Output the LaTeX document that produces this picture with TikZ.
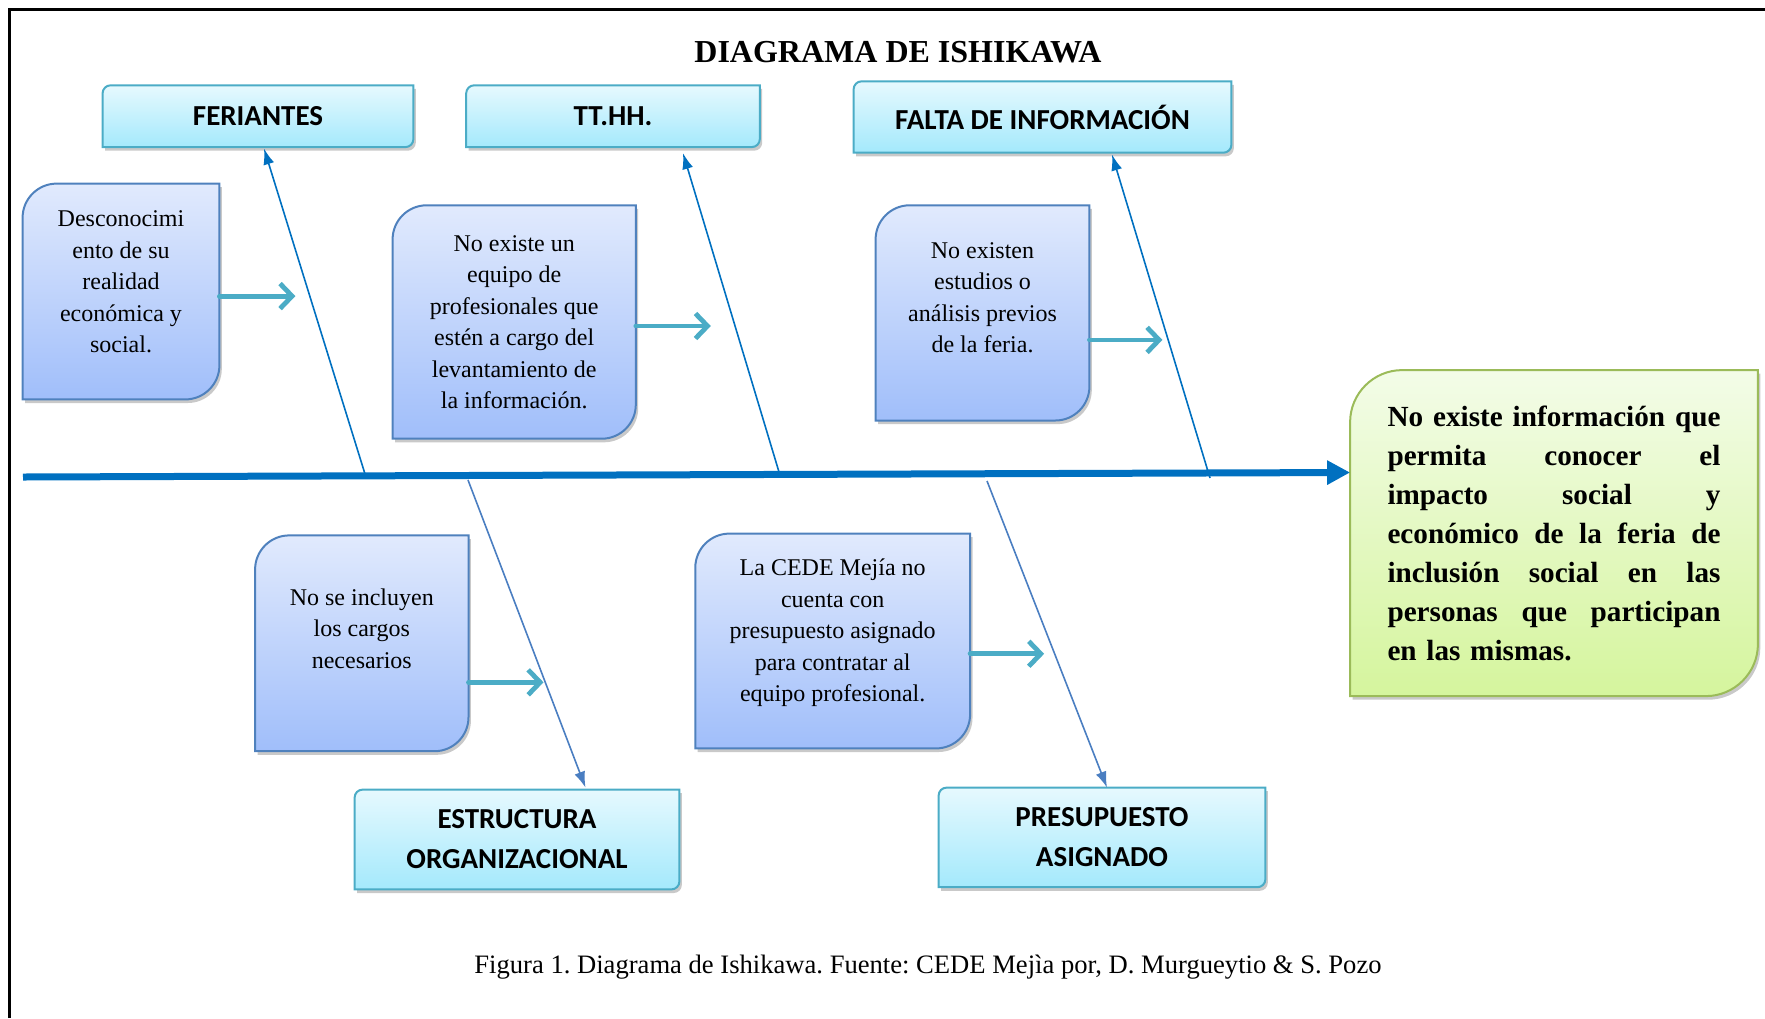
\documentclass[tikz,border=0pt]{standalone}
\usepackage{fontspec}
\setmainfont{Liberation Serif}
\newfontfamily\calibri{Carlito}
\usetikzlibrary{arrows.meta,shadows,backgrounds}
\frenchspacing
\definecolor{spineblue}{RGB}{0,112,192}
\definecolor{lowbone}{RGB}{74,126,193}
\definecolor{causeline}{RGB}{79,129,189}
\definecolor{causetop}{RGB}{225,234,253}
\definecolor{causebot}{RGB}{160,190,250}
\definecolor{catline}{RGB}{75,172,198}
\definecolor{cattop}{RGB}{230,249,254}
\definecolor{catbot}{RGB}{164,233,252}
\definecolor{effline}{RGB}{155,187,89}
\definecolor{efftop}{RGB}{243,252,232}
\definecolor{effbot}{RGB}{213,245,157}
\definecolor{cuecyan}{RGB}{75,172,198}
\newcommand{\spreadline}[1]{\makebox[166.5pt][s]{\spaceskip=.25em plus 1fil #1}}
\newcommand{\fishbox}[3]{%
  \path[#3] (#1.south west) -- ([yshift=-#2]#1.north west)
    .. controls ([yshift=-0.45*#2]#1.north west) and ([xshift=0.45*#2]#1.north west) .. ([xshift=#2]#1.north west)
    -- (#1.north east) -- ([yshift=#2]#1.south east)
    .. controls ([yshift=0.45*#2]#1.south east) and ([xshift=-0.45*#2]#1.south east) .. ([xshift=-#2]#1.south east)
    -- cycle;}
\begin{document}
\begin{tikzpicture}[x=0.5pt, y=-0.5pt,
  boxshadow/.style={drop shadow={shadow xshift=1.2pt, shadow yshift=-1.8pt, opacity=0.3, fill=black!70}},
  catfill/.style={boxshadow, draw=catline, line width=1pt, top color=cattop, bottom color=catbot},
  causefill/.style={boxshadow, draw=causeline, line width=1pt, top color=causetop, bottom color=causebot},
  efffill/.style={boxshadow, draw=effline, line width=1pt, top color=efftop, bottom color=effbot},
  catbox/.style={align=center, inner sep=0pt, font=\calibri\bfseries\fontsize{14.5}{20}\selectfont},
  causebox/.style={inner sep=0pt},
  causetext/.style={align=center, inner sep=0pt, font=\fontsize{12}{15.75}\selectfont},
  efftext/.style={align=left, text width=166.5pt, inner sep=0pt, font=\bfseries\fontsize{14.6}{19.5}\selectfont},
  upbone/.style={spineblue, line width=0.8pt, -{Latex[length=8pt,width=5.5pt]}},
  downbone/.style={lowbone, line width=0.8pt, -{Latex[length=8pt,width=5.5pt]}},
  cuearrow/.style={cuecyan, line width=2.4pt, line cap=round, line join=round, -{Straight Barb[length=6pt,width=12.5pt]}},
  spine/.style={spineblue, line width=3.5pt, -{Triangle[length=11.5pt,width=11.5pt]}}]
\useasboundingbox (0,0) rectangle (1765,1018);
\draw [line width=1.5pt] (9,1018) -- (9,9) -- (1765,9);

\node [font=\bfseries\fontsize{16}{19}\selectfont] (title) at (898,52) {DIAGRAMA DE ISHIKAWA};
\node [font=\fontsize{13.3}{16}\selectfont] (caption) at (928,967) {Figura 1. Diagrama de Ishikawa. Fuente: CEDE Mejìa por, D. Murgueytio \& S. Pozo};

\node [catbox, minimum width=155pt, minimum height=30.5pt] (cat1) at (258,116.2) {FERIANTES};
\node [catbox, minimum width=146.4pt, minimum height=30.5pt] (cat2) at (613,116.2) {TT.HH.};
\node [catbox, minimum width=188.5pt, minimum height=35.3pt] (cat3) at (1042.5,117) {FALTA DE INFORMACIÓN};
\node [catbox, minimum width=162pt, minimum height=49.5pt] (cat4) at (517,839.5) {ESTRUCTURA\\ORGANIZACIONAL};
\node [catbox, minimum width=163pt, minimum height=49.4pt] (cat5) at (1102,837.4) {PRESUPUESTO\\ASIGNADO};

\node [causebox, minimum width=98pt, minimum height=107.5pt] (c1) at (121,291.5) {};
\node [causebox, minimum width=121.2pt, minimum height=116.3pt] (c2) at (514.2,322) {};
\node [causebox, minimum width=106.5pt, minimum height=107.2pt] (c3) at (982.5,312.9) {};
\node [causebox, minimum width=106.3pt, minimum height=107.5pt] (c4) at (361.8,643.3) {};
\node [causebox, minimum width=137pt, minimum height=107pt] (c5) at (832.7,641) {};
\node [causetext] (c1t) at ([yshift=4.75pt]c1) {Desconocimi\\ento de su\\realidad\\económica y\\social.};
\node [causetext] (c2t) at (c2) {No existe un\\equipo de\\profesionales que\\estén a cargo del\\levantamiento de\\la información.};
\node [causetext] (c3t) at ([yshift=7.5pt]c3) {No existen\\estudios o\\análisis previos\\de la feria.};
\node [causetext] (c4t) at ([yshift=7.3pt]c4) {No se incluyen\\los cargos\\necesarios};
\node [causetext] (c5t) at ([yshift=4pt]c5) {La CEDE Mejía no\\cuenta con\\presupuesto asignado\\para contratar al\\equipo profesional.};

\node [efftext, minimum width=203.5pt, minimum height=162.6pt] (eff) at (1554,533.1) {\spreadline{No existe información que}\\\spreadline{permita conocer el}\\\spreadline{impacto social y}\\\spreadline{económico de la feria de}\\\spreadline{inclusión social en las}\\\spreadline{personas que participan}\\en las mismas.};

\begin{scope}[on background layer]
\foreach \n in {cat1,cat2,cat3,cat4,cat5}{
	\fishbox{\n}{4pt}{catfill}
}
\foreach \n in {c1,c2,c3,c4,c5}{
	\fishbox{\n}{17pt}{causefill}
}
\fishbox{eff}{26pt}{efffill}
\end{scope}

\coordinate (tail) at (23,477);
\coordinate (j1) at (365,474);
\coordinate (j2) at (779,472);
\coordinate (j3) at (1210,478);
\coordinate (j4) at (468,480);
\coordinate (j5) at (987,481);
\draw [spine] (tail) -- ([yshift=30.3pt]eff.west);
\draw [upbone] (j1) -- ([xshift=3pt,yshift=-0.7pt]cat1.south);
\draw [upbone] (j2) -- ([xshift=35pt,yshift=-3pt]cat2.south);
\draw [upbone] (j3) -- ([xshift=34.75pt,yshift=-0.9pt]cat3.south);
\draw [downbone] (j4) -- ([xshift=34.25pt,yshift=1pt]cat4.north);
\draw [downbone] (j5) -- ([xshift=2.5pt]cat5.north);

\foreach \n/\dy/\len in {c1/-2.3pt/76, c2/-2pt/75, c3/-13.5pt/73, c4/-19.5pt/75, c5/-6.4pt/74}{
	\draw [cuearrow] ([yshift=\dy]\n.east) -- ++(\len,0);
}
\end{tikzpicture}
\end{document}
